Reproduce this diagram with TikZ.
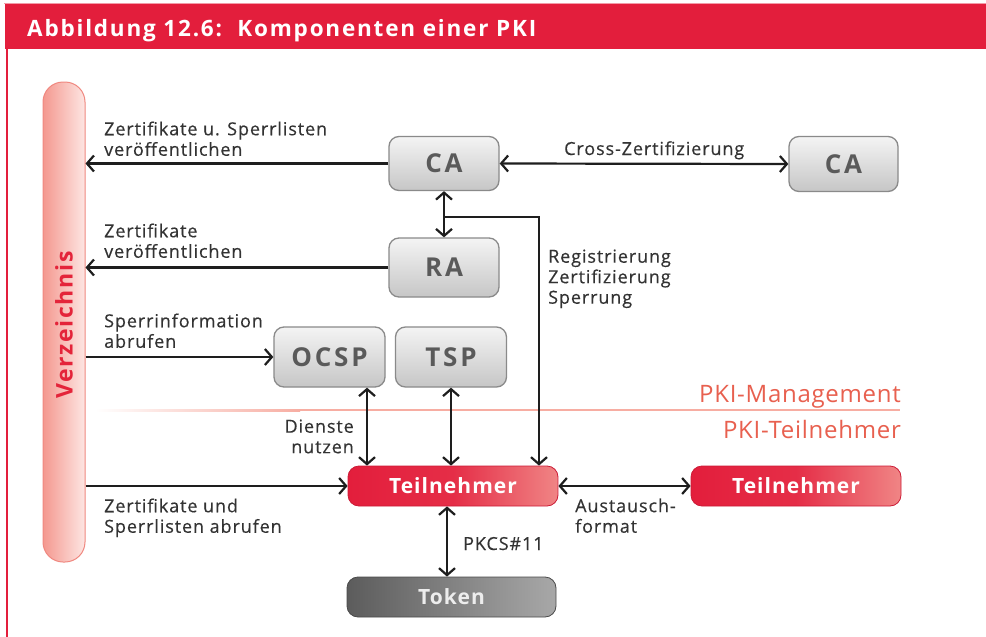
\documentclass[tikz,border=0pt]{standalone}
\usepackage{fontspec}
\setmainfont{Open Sans}
\newfontfamily\lblfont{Open Sans}[LetterSpace=5,FakeBold=0.35]
\newfontfamily\boxfont{Open Sans Bold}[LetterSpace=11]
\newfontfamily\rboxfont{Open Sans Bold}[LetterSpace=5]
\newfontfamily\verzfont{Open Sans Bold}[LetterSpace=7]
\newfontfamily\pkifont{Open Sans}[LetterSpace=3]
\newfontfamily\ttlfont{Open Sans Bold}[LetterSpace=8]
\usetikzlibrary{arrows.meta}
\definecolor{pkired}{HTML}{E31E3C}
\definecolor{verzL}{HTML}{F4988F}
\definecolor{verzR}{HTML}{FDE6E3}
\definecolor{verzB}{HTML}{F08880}
\definecolor{verzT}{HTML}{E4243A}
\definecolor{grayT}{HTML}{F4F4F4}
\definecolor{grayB}{HTML}{C6C6C6}
\definecolor{grayD}{HTML}{8A8A8A}
\definecolor{grayTx}{HTML}{5A5A5A}
\definecolor{redR}{HTML}{F08585}
\definecolor{tokL}{HTML}{5C5C5C}
\definecolor{tokR}{HTML}{A8A8A8}
\definecolor{divc}{HTML}{F7ADA2}
\definecolor{pkilbl}{HTML}{E8604F}
\definecolor{lblc}{HTML}{333333}
\definecolor{linec}{HTML}{1E1E1E}
\tikzset{
  graybox/.style={draw=grayD, line width=1.3pt, rounded corners=10pt, top color=grayT, bottom color=grayB,
    inner sep=0pt, text=grayTx, font=\boxfont\fontsize{26}{26}\selectfont},
  redbox/.style={draw=pkired!90!black, line width=0.8pt, rounded corners=11pt, left color=pkired, right color=redR,
    middle color=pkired!85!redR, inner sep=0pt, text=white, font=\rboxfont\fontsize{21}{21}\selectfont, minimum width=210pt, minimum height=40pt},
  tokbox/.style={draw=tokL!80!black, line width=0.8pt, rounded corners=11pt, left color=tokL, right color=tokR,
    inner sep=0pt, text=white!93!black, font=\rboxfont\fontsize{21}{21}\selectfont, minimum width=209pt, minimum height=40pt},
  lbl/.style={inner sep=0pt, text=lblc, font=\lblfont\fontsize{18}{20.5}\selectfont, align=left},
  pkitext/.style={inner sep=0pt, text=pkilbl, font=\pkifont\fontsize{24}{24}\selectfont},
  conn/.style={draw=linec, line width=2.2pt},
  arr/.style={conn, -{Straight Barb[length=7pt,width=16pt]}},
  darr/.style={conn, {Straight Barb[length=7pt,width=16pt]}-{Straight Barb[length=7pt,width=16pt]}},
}
\begin{document}
\begin{tikzpicture}[x=1pt,y=-1pt]
\useasboundingbox (0,0) rectangle (986,637);
\fill[white] (0,0) rectangle (986,637);
% header
\fill[pkired!45!white] (4,2.5) rectangle (986,4);
\fill[pkired] (5,4) rectangle (986,49);
\fill[pkired] (5.5,49) rectangle (8,637);
\node[anchor=base west, inner sep=0pt, text=white, font=\ttlfont\fontsize{22.5}{22.5}\selectfont] (title) at (27,36) {Abbildung 12.6:\ \ Komponenten einer PKI};

% Verzeichnis
\node[draw=verzB, line width=1pt, rounded corners=20pt, left color=verzL, right color=verzR, minimum width=42pt, minimum height=480pt, inner sep=0pt] (verz) at (64,322) {};
\node[rotate=90, inner sep=0pt, text=verzT, font=\verzfont\fontsize{23}{23}\selectfont] (verzt) at (64,325) {Verzeichnis};

% divider
\shade[left color=white, right color=divc] (95,409) rectangle (300,411);
\fill[divc] (300,409) rectangle (900,411);
\node[pkitext, anchor=base east] (pkim) at (901,402) {PKI-Management};
\node[pkitext, anchor=base east] (pkit) at (901,438) {PKI-Teilnehmer};

% boxes
\node[graybox, minimum width=110pt, minimum height=54pt] (ca1) at (444,163.5) {CA};
\node[graybox, minimum width=109pt, minimum height=55pt] (ca2) at (843.5,164) {CA};
\node[graybox, minimum width=110pt, minimum height=59pt] (ra) at (444,267.5) {RA};
\node[graybox, minimum width=111pt, minimum height=60pt] (ocsp) at (329.5,357) {OCSP};
\node[graybox, minimum width=111pt, minimum height=60pt] (tsp) at (451,357) {TSP};
\node[redbox] (t1) at (453,486) {Teilnehmer};
\node[redbox] (t2) at (796,486) {Teilnehmer};
\node[tokbox] (tok) at (451.5,597) {Token};

% connectors
\draw[arr] (ca1.west) -- (ca1.west -| verz.east);
\draw[arr] (ra.west) -- (ra.west -| verz.east);
\draw[arr] (verz.east |- ocsp.west) -- (ocsp.west);
\draw[arr] (verz.east |- t1.west) -- (t1.west);
\draw[darr] (ca1.east) -- (ca2.west);
\draw[darr] (ca1.south) -- (ra.north);
\coordinate (corner) at (539,217);
\draw[arr] (ca1.south |- corner) -- (corner) -- (corner |- t1.north);
\coordinate (xo) at (367,0);
\draw[darr] (ocsp.south -| xo) -- (t1.north -| xo);
\draw[darr] (tsp.south) -- (t1.north -| tsp.south);
\draw[darr] (t1.east) -- (t2.west);
\coordinate (xt) at (447,0);
\draw[darr] (t1.south -| xt) -- (tok.north -| xt);

% labels
\node[lbl, anchor=north west] (l1) at (104,121.3) {Zertifikate u. Sperrlisten\\veröffentlichen};
\node[lbl, anchor=north west] (l2) at (104,223.3) {Zertifikate\\veröffentlichen};
\node[lbl, anchor=north west] (l3) at (104,313.3) {Sperrinformation\\abrufen};
\node[lbl, anchor=north west] (l4) at (104,498.3) {Zertifikate und\\Sperrlisten abrufen};
\node[lbl, anchor=north east, align=right] (l5) at (354,419.3) {Dienste\\nutzen};
\node[lbl, anchor=base west] (l6) at (564,155) {Cross-Zertifizierung};
\node[lbl, anchor=north west] (l7) at (548,249.3) {Registrierung\\Zertifizierung\\Sperrung};
\node[lbl, anchor=north west] (l8) at (575,498.3) {Austausch-\\format};
\node[lbl, anchor=base west] (l9) at (463,550) {PKCS\#11};
\end{tikzpicture}
\end{document}
